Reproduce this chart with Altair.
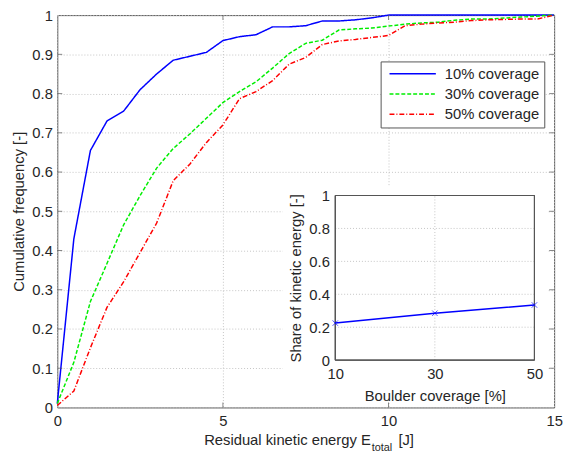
import altair as alt
import pandas as pd

# ---------------- data ----------------
series_names = ["10% coverage", "30% coverage", "50% coverage"]
series_colors = ["#0000ff", "#00ee00", "#ff0000"]
series_dash = [[1, 0], [4, 2], [5, 2, 1, 2]]

x_10 = [0, 0.5, 1.0, 1.5, 2.0, 2.5, 3.0, 3.5, 4.0, 4.5, 5.0, 5.5, 6.0, 6.5, 7.0,
        7.5, 8.0, 8.5, 9.0, 9.5, 10.0, 15.0]
y_10 = [0.01, 0.43, 0.655, 0.73, 0.755, 0.81, 0.85, 0.885, 0.895, 0.905, 0.935,
        0.945, 0.95, 0.97, 0.97, 0.973, 0.985, 0.985, 0.988, 0.993, 1.0, 1.0]

x_30 = [0, 0.5, 1.0, 1.5, 2.0, 2.5, 3.0, 3.5, 4.0, 4.5, 5.0, 5.5, 6.0, 6.5, 7.0,
        7.5, 8.0, 8.5, 9.0, 9.5, 10.0, 10.5, 11.0, 11.5, 12.0, 12.5, 13.0, 14.0, 15.0]
y_30 = [0.01, 0.115, 0.27, 0.367, 0.465, 0.54, 0.61, 0.66, 0.697, 0.737, 0.777,
        0.805, 0.83, 0.865, 0.902, 0.928, 0.936, 0.962, 0.965, 0.967, 0.972, 0.977,
        0.98, 0.982, 0.987, 0.99, 0.99, 0.995, 1.0]

x_50 = [0, 0.5, 1.0, 1.5, 2.0, 2.5, 3.0, 3.5, 4.0, 4.5, 5.0, 5.5, 6.0, 6.5, 7.0,
        7.5, 8.0, 8.5, 9.0, 9.5, 10.0, 10.5, 11.0, 11.5, 12.0, 12.5, 13.0, 14.0, 14.5, 15.0]
y_50 = [0.005, 0.042, 0.152, 0.255, 0.32, 0.395, 0.47, 0.578, 0.62, 0.675, 0.72,
        0.787, 0.805, 0.833, 0.875, 0.892, 0.925, 0.934, 0.938, 0.943, 0.948, 0.973,
        0.977, 0.98, 0.982, 0.986, 0.988, 0.99, 0.99, 1.0]

x_ticks = [0, 5, 10, 15]
y_ticks = [0, 0.1, 0.2, 0.3, 0.4, 0.5, 0.6, 0.7, 0.8, 0.9, 1.0]

# x-axis title pieces: main text, subscript, unit
x_title = ["Residual kinetic energy E", "total", "[J]"]
y_title = "Cumulative frequency [-]"

# inset
coverage = [10, 30, 50]
share = [0.225, 0.285, 0.335]
cov_ticks = [10, 30, 50]
share_ticks = [0, 0.2, 0.4, 0.6, 0.8, 1.0]
inset_x_title = "Boulder coverage [%]"
inset_y_title = "Share of kinetic energy [-]"

# white panel behind the inset, in main-axes units: x0, x1, y0, y1
inset_panel = [6.8, 14.8, 0.015, 0.565]

FONT = "Liberation Sans"
TXT = "#262626"
FRAME = "#555555"
GRID = "#c4c4c4"

# ---------------- frames ----------------
rows = []
for name, xs, ys in zip(series_names, [x_10, x_30, x_50], [y_10, y_30, y_50]):
    for i, (a, b) in enumerate(zip(xs, ys)):
        rows.append({"series": name, "energy": a, "freq": b, "order": i})
df = pd.DataFrame(rows)

df_panel = pd.DataFrame([{"x0": inset_panel[0], "x1": inset_panel[1],
                          "y0": inset_panel[2], "y1": inset_panel[3]}])
df_yt = pd.DataFrame({"v": y_ticks[1:-1]})
df_xt = pd.DataFrame({"v": x_ticks[1:-1]})
df_in = pd.DataFrame({"cov": coverage, "share": share})
df_in_xg = pd.DataFrame({"cov": cov_ticks[1:-1]})
df_in_yg = pd.DataFrame({"share": share_ticks[1:-1]})
df_one = pd.DataFrame({"k": [0]})

# ---------------- main plot ----------------
xs_main = alt.Scale(domain=[x_ticks[0], x_ticks[-1]], nice=False, zero=False)
ys_main = alt.Scale(domain=[y_ticks[0], y_ticks[-1]], nice=False)

legend = alt.Legend(
    title=None, orient="none", legendX=328, legendY=47,
    symbolType="stroke", symbolSize=2209, symbolStrokeWidth=1.5, symbolOffset=3,
    labelFont=FONT, labelFontSize=15, labelColor=TXT, labelOffset=8,
    fillColor="white", strokeColor=FRAME, padding=5,
    clipHeight=15, rowPadding=4.5,
)

lines = alt.Chart(df).mark_line(strokeWidth=1.5).encode(
    x=alt.X("energy:Q", scale=xs_main,
            axis=alt.Axis(values=x_ticks, format="~g", tickCount=len(x_ticks),
                          title=None, labelPadding=6)),
    y=alt.Y("freq:Q", scale=ys_main,
            axis=alt.Axis(values=y_ticks, format="~g", tickCount=len(y_ticks),
                          title=y_title, labelPadding=5, titlePadding=5)),
    color=alt.Color("series:N", scale=alt.Scale(domain=series_names, range=series_colors),
                    legend=legend),
    strokeDash=alt.StrokeDash("series:N", scale=alt.Scale(domain=series_names, range=series_dash),
                              legend=legend),
    order="order:Q",
)

panel = alt.Chart(df_panel).mark_rect(fill="white", strokeWidth=0).encode(
    x="x0:Q", x2="x1:Q", y="y0:Q", y2="y1:Q"
)

tick_l = alt.Chart(df_yt).mark_tick(orient="horizontal", size=5, thickness=1,
                                    color=FRAME, xOffset=2.5).encode(
    y="v:Q", x=alt.datum(x_ticks[0]))
tick_r = alt.Chart(df_yt).mark_tick(orient="horizontal", size=5, thickness=1,
                                    color=FRAME, xOffset=-2.5).encode(
    y="v:Q", x=alt.datum(x_ticks[-1]))
tick_b = alt.Chart(df_xt).mark_tick(orient="vertical", size=5, thickness=1,
                                    color=FRAME, yOffset=-2.5).encode(
    x="v:Q", y=alt.datum(y_ticks[0]))
tick_t = alt.Chart(df_xt).mark_tick(orient="vertical", size=5, thickness=1,
                                    color=FRAME, yOffset=2.5).encode(
    x="v:Q", y=alt.datum(y_ticks[-1]))

# x-axis title with a subscript (three text pieces)
t_main = alt.Chart(df_one).mark_text(text=x_title[0], font=FONT, fontSize=15, color=TXT,
                                     align="right", baseline="alphabetic").encode(
    x=alt.value(318), y=alt.value(436))
t_sub = alt.Chart(df_one).mark_text(text=x_title[1], font=FONT, fontSize=11, color=TXT,
                                    align="left", baseline="alphabetic").encode(
    x=alt.value(319), y=alt.value(442))
t_unit = alt.Chart(df_one).mark_text(text=x_title[2], font=FONT, fontSize=15, color=TXT,
                                     align="left", baseline="alphabetic").encode(
    x=alt.value(346), y=alt.value(436))

main = alt.layer(lines, panel, tick_l, tick_r, tick_b, tick_t, t_main, t_sub, t_unit)

# ---------------- inset ----------------
xs_in = alt.Scale(domain=[cov_ticks[0], cov_ticks[-1]], range=[282, 484], nice=False, zero=False)
ys_in = alt.Scale(domain=[share_ticks[0], share_ticks[-1]], range=[350, 183], nice=False)

in_xgrid = alt.Chart(df_in_xg).mark_rule(color=GRID, strokeDash=[1, 2]).encode(
    x=alt.X("cov:Q", scale=xs_in), y=alt.datum(share_ticks[0]), y2=alt.datum(share_ticks[-1]))
in_ygrid = alt.Chart(df_in_yg).mark_rule(color=GRID, strokeDash=[1, 2]).encode(
    y=alt.Y("share:Q", scale=ys_in), x=alt.datum(cov_ticks[0]), x2=alt.datum(cov_ticks[-1]))

in_frame = alt.Chart(df_in).mark_rect(fillOpacity=0, stroke=FRAME, strokeWidth=1).encode(
    x=alt.datum(cov_ticks[0]), x2=alt.datum(cov_ticks[-1]),
    y=alt.datum(share_ticks[0]), y2=alt.datum(share_ticks[-1]))

in_line = alt.Chart(df_in).mark_line(color="#0000ff", strokeWidth=1.5).encode(
    x=alt.X("cov:Q", scale=xs_in,
            axis=alt.Axis(orient="bottom", offset=-48, values=cov_ticks, format="d",
                          tickCount=len(cov_ticks) + 1, zindex=1,
                          title=inset_x_title, grid=False, ticks=False, tickSize=0,
                          domain=False, labelPadding=7, titlePadding=7)),
    y=alt.Y("share:Q", scale=ys_in,
            axis=alt.Axis(orient="left", offset=-282, values=share_ticks, format="~g",
                          tickCount=len(share_ticks) + 1, zindex=1,
                          title=inset_y_title, grid=False, ticks=False,
                          tickSize=0, domain=False, labelPadding=6, titlePadding=5)),
)
in_pts = alt.Chart(df_in).mark_point(shape="M-1,-1L1,1M-1,1L1,-1", size=30, color="#0000ff",
                                     strokeWidth=1, filled=False).encode(
    x="cov:Q", y="share:Q")

inset = alt.layer(in_xgrid, in_ygrid, in_frame, in_line, in_pts)

chart = alt.layer(main, inset).resolve_scale(x="independent", y="independent").properties(
    width=504, height=398,
    autosize=alt.AutoSizeParams(type="none"),
    padding={"left": 50, "top": 4, "right": 10, "bottom": 44},
).configure_view(stroke=FRAME, strokeWidth=1).configure_axis(
    labelFont=FONT, titleFont=FONT, labelFontSize=15, titleFontSize=15,
    labelColor=TXT, titleColor=TXT, titleFontWeight="normal",
    ticks=False, tickSize=0, domain=False, labelFlush=False,
    grid=True, gridColor=GRID, gridDash=[1, 2], gridWidth=1,
).configure_legend(labelFont=FONT)

chart.save("out.html", embed_options={"renderer": "svg", "actions": False})
